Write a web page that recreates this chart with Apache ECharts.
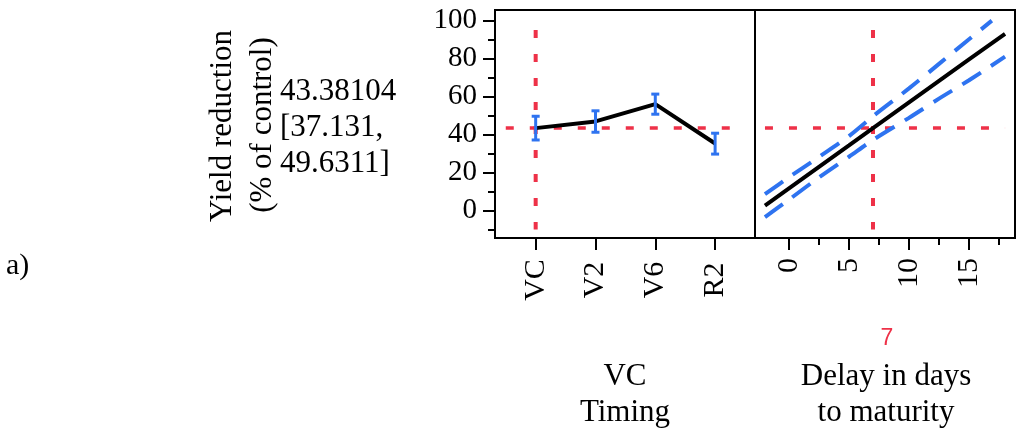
<!DOCTYPE html>
<html>
<head>
<meta charset="utf-8">
<script src="https://cdn.jsdelivr.net/npm/echarts@6/dist/echarts.min.js"></script>
<style>
  html, body { margin: 0; padding: 0; background: #fff; }
  #chart { width: 1021px; height: 434px; }
</style>
</head>
<body>
<div id="chart"></div>
<script>
// Prediction profiler: yield reduction vs VC timing and delay to maturity

// VC timing factor
const timings = ['VC', 'V2', 'V6', 'R2'];
const timingMean = [43.38104, 46.9, 56.0, 35.3];
const timingLow = [37.131, 41.2, 50.7, 29.7];
const timingHigh = [49.6311, 52.5, 61.3, 40.7];

// Delay in days to maturity factor
const delayDays = [-2, 0, 2.5, 5, 7, 10, 12.5, 15, 18];
const delayFit = [2.6, 11.7, 23.0, 34.3, 43.38104, 57.0, 68.3, 79.6, 93.0];
const delayLower = [-3.5, 5.7, 17.4, 28.3, 37.131, 48.8, 58.9, 68.6, 81.0];
// upper limit is only drawn up to the top of the response range
const upperDays = [-2, 0, 2.5, 5, 7, 10, 12.5, 15, 16.9];
const delayUpper = [8.6, 17.5, 28.2, 39.2, 49.6311, 64.3, 77.2, 90.2, 100.0];

// Current settings and predicted response
const currentTiming = 0;          // index of 'VC'
const currentDelay = 7;
const predicted = 43.38104;
const predictedCI = [37.131, 49.6311];
const crossSpan = [95, -10];      // vertical extent of the red cross-hairs
const timingSpan = [-0.5, 3.5];   // horizontal extent in the timing panel
const delaySpan = [-2, 18];       // horizontal extent in the delay panel

// Axis ticks
const yMajor = [0, 20, 40, 60, 80, 100];
const yMinor = [-10, 10, 30, 50, 70, 90];
const delayMajor = [0, 5, 10, 15];
const delayMinor = [2.5, 7.5, 12.5, 17.5];

const SERIF = 'Liberation Serif';
const RED = '#EE3148';
const BLUE = '#2E73F0';
const BLACK = '#000';
const Y_MIN = -14.5, Y_MAX = 105.6;

const chart = echarts.init(document.getElementById('chart'), null, { renderer: 'canvas' });

const hiddenLine = { show: false, onZero: false };
const tickStyle = { color: BLACK, width: 2 };

const option = {
  animation: false,
  backgroundColor: '#fff',
  grid: [
    { left: 495, top: 10, width: 260, height: 228, show: true, borderColor: BLACK, borderWidth: 2, backgroundColor: 'transparent' },
    { left: 755, top: 10, width: 260, height: 228, show: true, borderColor: BLACK, borderWidth: 2, backgroundColor: 'transparent' }
  ],
  xAxis: [
    {
      gridIndex: 0, type: 'value', position: 'bottom', min: -0.68, max: 3.667,
      axisLine: hiddenLine, splitLine: { show: false },
      axisTick: { show: true, length: 12, lineStyle: tickStyle, customValues: timings.map((_, i) => i) },
      axisLabel: {
        show: true, customValues: timings.map((_, i) => i),
        formatter: v => timings[Math.round(v)],
        rotate: 90, align: 'center', verticalAlign: 'middle', margin: 42,
        fontFamily: SERIF, fontSize: 30, color: BLACK
      }
    },
    {
      gridIndex: 1, type: 'value', position: 'bottom', min: -2.83, max: 18.83,
      axisLine: hiddenLine, splitLine: { show: false },
      axisTick: { show: true, length: 12, lineStyle: tickStyle, customValues: delayMajor },
      axisLabel: {
        show: true, customValues: delayMajor,
        rotate: 90, align: 'right', verticalAlign: 'middle', margin: 20,
        fontFamily: SERIF, fontSize: 30, color: BLACK
      }
    },
    {
      gridIndex: 1, type: 'value', position: 'bottom', min: -2.83, max: 18.83,
      axisLine: hiddenLine, splitLine: { show: false },
      axisTick: { show: true, length: 7, lineStyle: tickStyle, customValues: delayMinor },
      axisLabel: { show: false }
    }
  ],
  yAxis: [
    {
      gridIndex: 0, type: 'value', position: 'left', min: Y_MIN, max: Y_MAX,
      axisLine: hiddenLine, splitLine: { show: false },
      axisTick: { show: true, length: 12, lineStyle: tickStyle, customValues: yMajor },
      axisLabel: {
        show: true, customValues: yMajor, margin: 18,
        fontFamily: SERIF, fontSize: 29, color: BLACK
      }
    },
    {
      gridIndex: 0, type: 'value', position: 'left', min: Y_MIN, max: Y_MAX,
      axisLine: hiddenLine, splitLine: { show: false },
      axisTick: { show: true, length: 7, lineStyle: tickStyle, customValues: yMinor },
      axisLabel: { show: false }
    },
    {
      gridIndex: 1, type: 'value', position: 'left', min: Y_MIN, max: Y_MAX,
      axisLine: hiddenLine, splitLine: { show: false },
      axisTick: { show: false }, axisLabel: { show: false }
    }
  ],
  series: [
    // red cross-hairs, timing panel
    {
      type: 'line', xAxisIndex: 0, yAxisIndex: 0, symbol: 'none', z: 1, silent: true,
      data: timingSpan.map(x => [x, predicted]),
      lineStyle: { color: RED, width: 3.5, type: [8, 16] }
    },
    {
      type: 'line', xAxisIndex: 0, yAxisIndex: 0, symbol: 'none', z: 1, silent: true,
      data: crossSpan.map(y => [currentTiming, y]),
      lineStyle: { color: RED, width: 4, type: [8, 16] }
    },
    // mean response per timing
    {
      type: 'line', xAxisIndex: 0, yAxisIndex: 0, symbol: 'none', z: 3,
      data: timingMean.map((v, i) => [i, v]),
      lineStyle: { color: BLACK, width: 4 }
    },
    // confidence bars per timing
    {
      type: 'custom', xAxisIndex: 0, yAxisIndex: 0, z: 4,
      data: timings.map((_, i) => [i, timingLow[i], timingHigh[i]]),
      renderItem: (params, api) => {
        const x = api.value(0);
        const lo = api.coord([x, api.value(1)]);
        const hi = api.coord([x, api.value(2)]);
        const hw = 4;
        const st = { stroke: BLUE, lineWidth: 3 };
        return {
          type: 'group',
          children: [
            { type: 'line', shape: { x1: lo[0], y1: lo[1], x2: hi[0], y2: hi[1] }, style: st },
            { type: 'line', shape: { x1: lo[0] - hw, y1: lo[1], x2: lo[0] + hw, y2: lo[1] }, style: st },
            { type: 'line', shape: { x1: hi[0] - hw, y1: hi[1], x2: hi[0] + hw, y2: hi[1] }, style: st }
          ]
        };
      }
    },
    // red cross-hairs, delay panel
    {
      type: 'line', xAxisIndex: 1, yAxisIndex: 2, symbol: 'none', z: 1, silent: true,
      data: delaySpan.map(x => [x, predicted]),
      lineStyle: { color: RED, width: 3.5, type: [8, 16] }
    },
    {
      type: 'line', xAxisIndex: 1, yAxisIndex: 2, symbol: 'none', z: 1, silent: true,
      data: crossSpan.map(y => [currentDelay, y]),
      lineStyle: { color: RED, width: 4, type: [8, 16] }
    },
    // confidence band around the delay fit
    {
      type: 'line', xAxisIndex: 1, yAxisIndex: 2, symbol: 'none', z: 2, smooth: 0.3,
      data: upperDays.map((d, i) => [d, delayUpper[i]]),
      lineStyle: { color: BLUE, width: 4, type: [22, 12] }
    },
    {
      type: 'line', xAxisIndex: 1, yAxisIndex: 2, symbol: 'none', z: 2, smooth: 0.3,
      data: delayDays.map((d, i) => [d, delayLower[i]]),
      lineStyle: { color: BLUE, width: 4, type: [22, 12] }
    },
    // delay fit
    {
      type: 'line', xAxisIndex: 1, yAxisIndex: 2, symbol: 'none', z: 3,
      data: delayDays.map((d, i) => [d, delayFit[i]]),
      lineStyle: { color: BLACK, width: 4 }
    }
  ],
  graphic: [
    {
      type: 'text', x: 223, y: 126, rotation: Math.PI / 2,
      style: { text: 'Yield reduction', font: '31px "Liberation Serif"', fill: BLACK, align: 'center', verticalAlign: 'middle' }
    },
    {
      type: 'text', x: 263, y: 125, rotation: Math.PI / 2,
      style: { text: '(% of control)', font: '31px "Liberation Serif"', fill: BLACK, align: 'center', verticalAlign: 'middle' }
    },
    {
      type: 'text', x: 280, y: 128,
      style: {
        text: predicted.toFixed(5) + '\n[' + predictedCI[0] + ',\n' + predictedCI[1] + ']',
        font: '31px "Liberation Serif"', lineHeight: 36, fill: BLACK, align: 'left', verticalAlign: 'middle'
      }
    },
    {
      type: 'text', x: 6, y: 266,
      style: { text: 'a)', font: '30px "Liberation Serif"', fill: BLACK, align: 'left', verticalAlign: 'middle' }
    },
    {
      type: 'text', x: 625, y: 395,
      style: { text: 'VC\nTiming', font: '31px "Liberation Serif"', lineHeight: 36, fill: BLACK, align: 'center', verticalAlign: 'middle' }
    },
    {
      type: 'text', x: 887, y: 339,
      style: { text: String(currentDelay), font: '23px "Liberation Sans"', fill: RED, align: 'center', verticalAlign: 'middle' }
    },
    {
      type: 'text', x: 886, y: 395,
      style: { text: 'Delay in days\nto maturity', font: '31px "Liberation Serif"', lineHeight: 36, fill: BLACK, align: 'center', verticalAlign: 'middle' }
    }
  ]
};

chart.setOption(option);
</script>
</body>
</html>
